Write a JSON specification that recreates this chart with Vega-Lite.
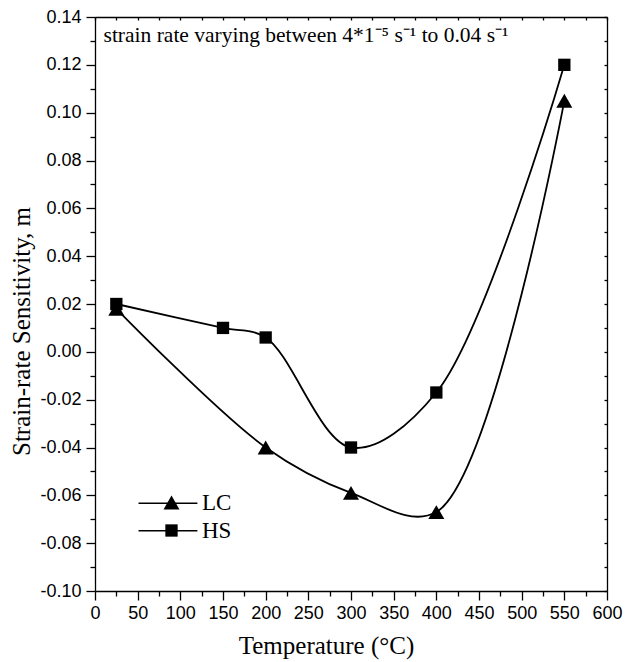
{
  "$schema": "https://vega.github.io/schema/vega-lite/v6.json",
  "autosize": {"type": "none"},
  "width": 512,
  "height": 574,
  "padding": {"left": 95, "top": 17, "right": 18, "bottom": 71},
  "background": "white",
  "config": {
    "view": {"stroke": null},
    "axis": {"domainColor": "black", "tickColor": "black", "domainWidth": 1.3, "tickWidth": 1.3, "grid": false, "labelColor": "black", "titleColor": "black", "labelOverlap": false, "labelFlush": false}
  },
  "data": {
    "values": [
      {"T": 25, "m": 0.018, "series": "LC"},
      {"T": 200, "m": -0.040, "series": "LC"},
      {"T": 300, "m": -0.059, "series": "LC"},
      {"T": 400, "m": -0.067, "series": "LC"},
      {"T": 550, "m": 0.105, "series": "LC"},
      {"T": 25, "m": 0.020, "series": "HS"},
      {"T": 150, "m": 0.010, "series": "HS"},
      {"T": 200, "m": 0.006, "series": "HS"},
      {"T": 300, "m": -0.040, "series": "HS"},
      {"T": 400, "m": -0.017, "series": "HS"},
      {"T": 550, "m": 0.120, "series": "HS"}
    ]
  },
  "resolve": {"axis": {"x": "independent", "y": "independent"}},
  "layer": [
    {
      "mark": {"type": "line", "interpolate": "catmull-rom", "color": "black", "strokeWidth": 1.8},
      "encoding": {
        "x": {
          "field": "T", "type": "quantitative",
          "scale": {"domain": [0, 600], "nice": false, "zero": false},
          "axis": {
            "orient": "bottom", "values": [0, 50, 100, 150, 200, 250, 300, 350, 400, 450, 500, 550, 600],
            "tickSize": 9, "labelPadding": 4, "labelFont": "Liberation Sans", "labelFontSize": 18,
            "title": "Temperature (°C)", "titleFont": "Liberation Serif", "titleFontSize": 25, "titleFontWeight": "normal",
            "titleX": 231, "titleY": 62, "titleBaseline": "alphabetic", "titleAlign": "center", "titleAnchor": null
          }
        },
        "y": {
          "field": "m", "type": "quantitative",
          "scale": {"domain": [-0.10, 0.14], "nice": false, "zero": false},
          "axis": {
            "orient": "left", "values": [-0.10, -0.08, -0.06, -0.04, -0.02, 0, 0.02, 0.04, 0.06, 0.08, 0.10, 0.12, 0.14],
            "labelExpr": "replace(format(datum.value, '.2f'), '\u2212', '-')",
            "tickSize": 9, "labelPadding": 5, "labelFont": "Liberation Sans", "labelFontSize": 18,
            "title": "Strain-rate Sensitivity, m", "titleFont": "Liberation Serif", "titleFontSize": 25, "titleFontWeight": "normal",
            "titleX": -66, "titleY": 314, "titleAngle": 270, "titleBaseline": "alphabetic", "titleAlign": "center", "titleAnchor": null
          }
        },
        "detail": {"field": "series", "type": "nominal"}
      }
    },
    {
      "data": {"values": [{"key": "LC legend line"}]},
      "mark": {"type": "rule", "color": "black", "strokeWidth": 1.6},
      "encoding": {
        "x": {"datum": 51, "type": "quantitative", "axis": null},
        "x2": {"datum": 120},
        "y": {"datum": -0.0633, "type": "quantitative", "axis": null}
      }
    },
    {
      "data": {"values": [{"key": "HS legend line"}]},
      "mark": {"type": "rule", "color": "black", "strokeWidth": 1.6},
      "encoding": {
        "x": {"datum": 51, "type": "quantitative", "axis": null},
        "x2": {"datum": 120},
        "y": {"datum": -0.0748, "type": "quantitative", "axis": null}
      }
    },
    {
      "mark": {"type": "point", "filled": true, "color": "black", "opacity": 1, "size": 256},
      "encoding": {
        "x": {"field": "T", "type": "quantitative", "axis": null},
        "y": {"field": "m", "type": "quantitative", "axis": null},
        "shape": {
          "field": "series", "type": "nominal",
          "scale": {"domain": ["LC", "HS"], "range": ["triangle-up", "M-0.77,-0.77H0.77V0.77H-0.77Z"]},
          "legend": {
            "orient": "none", "legendX": 65, "legendY": 474, "title": null, "padding": 0,
            "symbolSize": 256, "labelOffset": 19, "rowPadding": 4,
            "labelFont": "Liberation Serif", "labelFontSize": 23, "labelColor": "black",
            "symbolOpacity": 1, "symbolFillColor": "black", "symbolStrokeColor": "black"
          }
        }
      }
    },
    {
      "data": {"values": [{"note": "strain rate varying between 4*1⁻⁵ s⁻¹ to 0.04 s⁻¹"}]},
      "mark": {"type": "text", "align": "left", "baseline": "alphabetic", "font": "Liberation Serif", "fontSize": 21.5, "color": "black"},
      "encoding": {
        "x": {"datum": 10, "type": "quantitative", "axis": null},
        "y": {"datum": 0.1294, "type": "quantitative", "axis": null},
        "text": {"field": "note", "type": "nominal"}
      }
    },
    {
      "mark": {"type": "point", "opacity": 0},
      "encoding": {
        "x": {"field": "T", "type": "quantitative", "axis": {"orient": "top", "values": [0, 25, 50, 75, 100, 125, 150, 175, 200, 225, 250, 275, 300, 325, 350, 375, 400, 425, 450, 475, 500, 525, 550, 575, 600], "labels": false, "title": null, "tickSize": -3}},
        "y": {"field": "m", "type": "quantitative", "axis": {"orient": "right", "values": [-0.10, -0.09, -0.08, -0.07, -0.06, -0.05, -0.04, -0.03, -0.02, -0.01, 0, 0.01, 0.02, 0.03, 0.04, 0.05, 0.06, 0.07, 0.08, 0.09, 0.10, 0.11, 0.12, 0.13, 0.14], "labels": false, "title": null, "tickSize": -3}}
      }
    },
    {
      "mark": {"type": "point", "opacity": 0},
      "encoding": {
        "x": {"field": "T", "type": "quantitative", "axis": {"orient": "bottom", "values": [25, 75, 125, 175, 225, 275, 325, 375, 425, 475, 525, 575], "labels": false, "title": null, "domain": false, "tickSize": 5}},
        "y": {"field": "m", "type": "quantitative", "axis": {"orient": "left", "values": [-0.09, -0.07, -0.05, -0.03, -0.01, 0.01, 0.03, 0.05, 0.07, 0.09, 0.11, 0.13], "labels": false, "title": null, "domain": false, "tickSize": 5}}
      }
    }
  ]
}
